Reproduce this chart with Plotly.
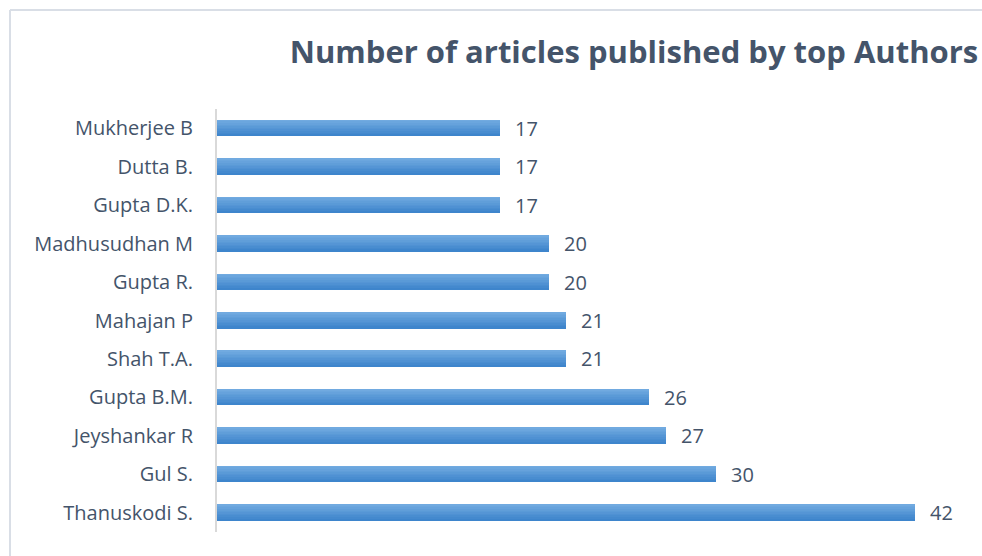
import plotly.graph_objects as go

# Authors listed top to bottom, with their article counts
authors = ["Mukherjee B", "Dutta B.", "Gupta D.K.", "Madhusudhan M", "Gupta R.",
           "Mahajan P", "Shah T.A.", "Gupta B.M.", "Jeyshankar R", "Gul S.",
           "Thanuskodi S."]
articles = [17, 17, 17, 20, 20, 21, 21, 26, 27, 30, 42]

title_text = "Number of articles published by top Authors"

W, H = 982, 556
L, R, T, B = 217, 17, 109, 24
plot_w = W - L - R
plot_h = H - T - B

text_color = "#44546a"
font_family = "'Open Sans', Lato, sans-serif"

fig = go.Figure()

# Bars drawn as thin stacked slices to give a vertical light-to-dark gradient
bar_width = 0.415
n_slices = 10
top_rgb = (113, 170, 224)
bot_rgb = (62, 133, 204)
slice_w = bar_width / n_slices
for i in range(n_slices):
    f = i / (n_slices - 1)
    c = tuple(round(top_rgb[k] + (bot_rgb[k] - top_rgb[k]) * f) for k in range(3))
    fig.add_trace(go.Bar(
        x=articles, y=list(range(len(authors))), orientation="h",
        width=slice_w * 1.02,
        offset=-bar_width / 2 + i * slice_w,
        marker=dict(color="rgb(%d,%d,%d)" % c, line=dict(width=0)),
        hoverinfo="skip", showlegend=False,
    ))

# Value labels next to each bar end
for idx, v in enumerate(articles):
    fig.add_annotation(x=v, y=idx, text=str(v), showarrow=False,
                       xanchor="left", xshift=13,
                       font=dict(size=20, color=text_color, family=font_family))

# Light outer frame (top and left edges visible)
fx = (10 - L) / plot_w
fy = 1 + (T - 10) / plot_h
fig.add_shape(type="line", xref="paper", yref="paper",
              x0=fx, x1=(W + 20 - L) / plot_w, y0=fy, y1=fy,
              line=dict(color="#d9dee6", width=2))
fig.add_shape(type="line", xref="paper", yref="paper",
              x0=fx, x1=fx, y0=fy, y1=-(B + 20) / plot_h,
              line=dict(color="#d9dee6", width=2))

fig.update_layout(
    width=W, height=H,
    margin=dict(l=L, r=R, t=T, b=B),
    paper_bgcolor="white", plot_bgcolor="white",
    barmode="overlay", bargap=0,
    title=dict(text="<b>" + title_text + "</b>", x=634 / W, xanchor="center",
               y=1 - 52 / H, yanchor="middle",
               font=dict(size=31, color=text_color, family=font_family)),
    xaxis=dict(range=[0, 45], showgrid=False, zeroline=False,
               showticklabels=False, showline=False, fixedrange=True),
    yaxis=dict(range=[10.5, -0.5], tickmode="array",
               tickvals=list(range(len(authors))), ticktext=authors,
               showgrid=False, zeroline=False, showline=True,
               linecolor="#d9d9d9", linewidth=2, ticks="",
               ticklabelstandoff=18,
               tickfont=dict(size=20, color=text_color, family=font_family)),
)

fig.write_html("out.html")
